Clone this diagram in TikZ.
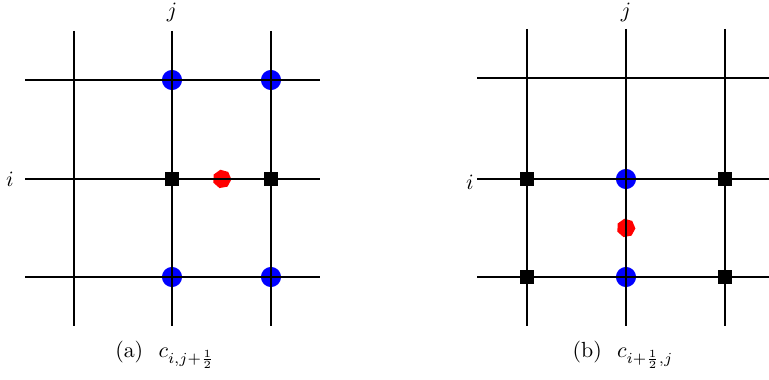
\documentclass[tikz,border=0pt]{standalone}
\usetikzlibrary{shapes.geometric}

\tikzset{
  gridline/.style={line width=1.3pt, black},
  vface/.style={circle, fill=blue, inner sep=0pt, minimum size=9.2pt},
  cnode/.style={rectangle, fill=black, inner sep=0pt, minimum size=6.6pt},
  flux/.style={regular polygon, regular polygon sides=7, fill=red, inner sep=0pt, minimum size=8.6pt, rotate=10},
}

\begin{document}
\begin{tikzpicture}[x=0.457pt, y=-0.457pt]
\useasboundingbox (0,0) rectangle (769,380);

% (a) : c_{i,j+1/2}
% marqueurs sous la grille
\foreach \x/\y [count=\k] in {172/80, 271/80, 172/277, 271/277}
  \node[vface] (ba\k) at (\x,\y) {};
\node[flux] (ra) at (222,179) {};
% grille
\foreach \x in {74,172,271}
  \draw[gridline] (\x,31) -- (\x,326);
\foreach \y in {80,179,277}
  \draw[gridline] (25,\y) -- (320,\y);
% centres
\node[cnode] (ka1) at (172,179) {};
\node[cnode] (ka2) at (271,179) {};
\node (ja) at (172,12) {$j$};
\node (ia) at (10,179) {$i$};
\node (capa) at (165,355) {(a)\hspace{0.7em}$c_{i,j+\frac{1}{2}}$};

% (b) : c_{i+1/2,j}
\node[vface] (bb1) at (626,179) {};
\node[vface] (bb2) at (626,277) {};
\node[flux] (rb) at (626,228) {};
\foreach \x in {527,626,725}
  \draw[gridline] (\x,29) -- (\x,326);
\foreach \y in {78,179,277}
  \draw[gridline] (477,\y) -- (769,\y);
\foreach \x/\y [count=\k] in {527/179, 725/179, 527/277, 725/277}
  \node[cnode] (kb\k) at (\x,\y) {};
\node (jb) at (626,12) {$j$};
\node (ib) at (470,182) {$i$};
\node (capb) at (623,355) {(b)\hspace{0.7em}$c_{i+\frac{1}{2},j}$};

\end{tikzpicture}
\end{document}
